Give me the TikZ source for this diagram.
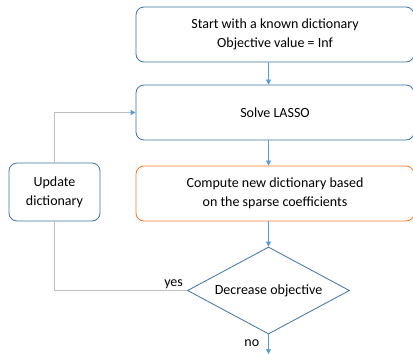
\documentclass[tikz,border=0pt]{standalone}
\usepackage{fontspec}
\setmainfont{Carlito}
\usetikzlibrary{shapes.geometric,arrows.meta,positioning}
\definecolor{boxblue}{HTML}{41719C}
\definecolor{arrowblue}{HTML}{5B9BD5}
\definecolor{boxorange}{HTML}{ED7D31}
\definecolor{loopgray}{HTML}{BFBFBF}
\tikzset{
  stepbox/.style={draw=boxblue, rounded corners=8pt, minimum width=278pt,
    minimum height=55pt, align=center, inner sep=0pt, line width=0.8pt},
  flow/.style={draw=arrowblue, line width=0.7pt,
    -{Triangle[width=5pt,length=5pt,color=arrowblue]}},
  loopline/.style={draw=loopgray, line width=1pt},
}
\begin{document}
\begin{tikzpicture}[x=1pt,y=-1pt,font=\fontsize{14}{19}\selectfont]
\useasboundingbox (0,0) rectangle (413,354);
\node[stepbox] (start) at (275,34.5) {Start with a known dictionary\\Objective value = Inf};
\node[stepbox] (lasso) at (275,112.5) {Solve LASSO};
\node[stepbox, draw=boxorange] (comp) at (275,193.5) {Compute new dictionary based\\on the sparse coefficients};
\node[stepbox, minimum width=91pt, minimum height=58pt] (upd) at (54.5,192) {Update\\dictionary};
\node[diamond, aspect=1.86, draw=boxblue, line width=0.8pt, minimum width=162pt,
  minimum height=87pt, inner sep=0pt] (dec) at (268.5,290.5) {Decrease objective};
\coordinate (exit) at (268.5,354);
% main flow
\draw[flow] (start.south -| dec.north) -- (lasso.north -| dec.north);
\draw[flow] (lasso.south -| dec.north) -- (comp.north -| dec.north);
\draw[flow] (comp.south -| dec.north) -- (dec.north);
\draw[flow] (dec.south) -- node[left=9pt, pos=0.45, inner sep=0pt] (no) {no} (exit);
% loop back
\draw[loopline] (dec.west) -| (upd.south);
\draw[loopline, -{Triangle[width=5pt,length=5pt,color=arrowblue]}] (upd.north) |- (lasso.west);
\node[above left=2pt and 4pt of dec.west, inner sep=0pt] (yes) {yes};
\end{tikzpicture}
\end{document}
